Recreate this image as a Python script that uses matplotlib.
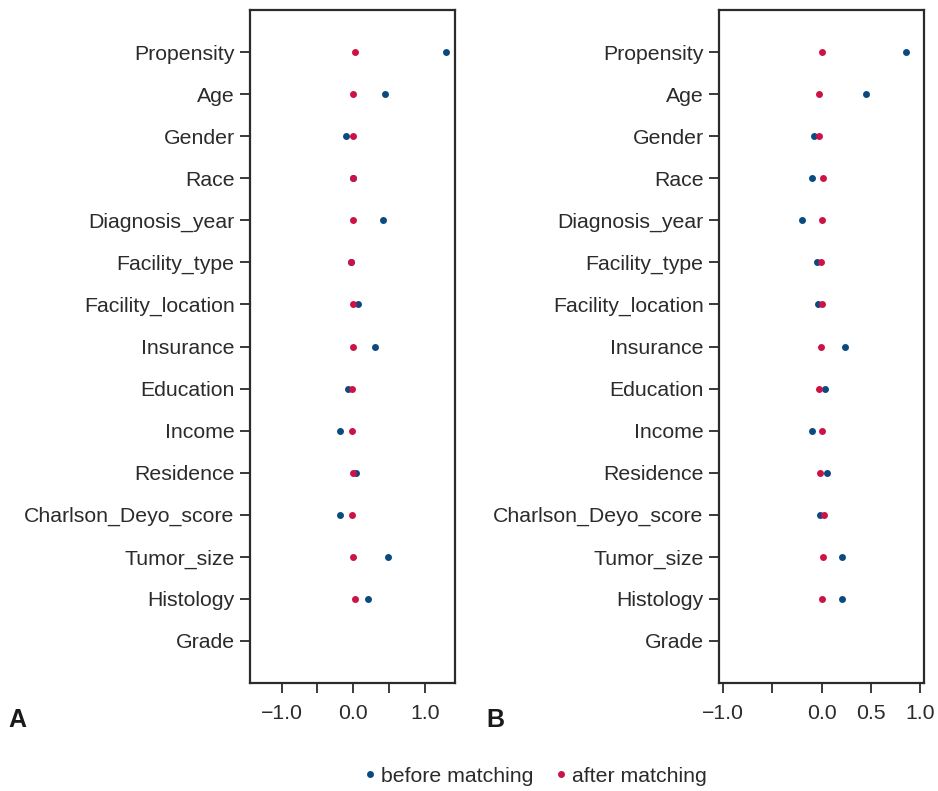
import numpy as np
import matplotlib.pyplot as plt

plt.rcParams['font.family'] = ['Liberation Sans', 'DejaVu Sans']

# Covariates, top to bottom
covariates = ["Propensity", "Age", "Gender", "Race", "Diagnosis_year",
              "Facility_type", "Facility_location", "Insurance", "Education",
              "Income", "Residence", "Charlson_Deyo_score", "Tumor_size",
              "Histology", "Grade"]

# Standardized differences, panel A (nan = not shown)
a_before = [1.29, 0.45, -0.10, 0.0, 0.41, -0.03, 0.06, 0.31, -0.07,
            -0.18, 0.04, -0.18, 0.49, 0.20, np.nan]
a_after = [0.02, 0.0, -0.01, 0.0, -0.01, -0.03, -0.01, 0.0, -0.02,
           -0.02, 0.0, -0.02, 0.0, 0.02, np.nan]

# Standardized differences, panel B
b_before = [0.86, 0.45, -0.08, -0.10, -0.20, -0.05, -0.04, 0.24, 0.04,
            -0.10, 0.06, -0.02, 0.21, 0.21, np.nan]
b_after = [0.0, -0.03, -0.03, 0.02, 0.01, -0.01, 0.0, -0.01, -0.03,
           0.0, -0.02, 0.03, 0.02, 0.0, np.nan]

blue = "#0b4a80"
red = "#cc1246"
spine_col = "#2b2b2b"

fig = plt.figure(figsize=(9.38, 7.91), dpi=100)
axA = fig.add_axes([250 / 938, 1 - 683 / 791, 205 / 938, 673 / 791])
axB = fig.add_axes([719 / 938, 1 - 683 / 791, 205 / 938, 673 / 791])

y = np.arange(len(covariates))[::-1]


def panel(ax, before, after, xlim, ticks, ticklabels):
    ax.plot(before, y, 'o', color=blue, markersize=5, markeredgewidth=0,
            label="before matching", zorder=3)
    ax.plot(after, y, 'o', color=red, markersize=5, markeredgewidth=0,
            label="after matching", zorder=4)
    ax.set_ylim(-1, len(covariates))
    ax.set_yticks(y)
    ax.set_yticklabels(covariates)
    ax.set_xlim(*xlim)
    ax.set_xticks(ticks)
    ax.set_xticklabels(ticklabels)
    ax.tick_params(labelsize=15.3, colors=spine_col, length=7, width=1.3)
    ax.tick_params(axis='y', pad=4)
    ax.tick_params(axis='x', pad=8)
    for s in ax.spines.values():
        s.set_color(spine_col)
        s.set_linewidth(1.6)


panel(axA, a_before, a_after, (-1.44, 1.42),
      [-1.0, -0.5, 0.0, 0.5, 1.0], ["\u22121.0", "", "0.0", "", "1.0"])
panel(axB, b_before, b_after, (-1.04, 1.04),
      [-1.0, -0.5, 0.0, 0.5, 1.0], ["\u22121.0", "", "0.0", "0.5", "1.0"])

fig.text(8 / 938, 1 - 720 / 791, "A", fontsize=18, fontweight='bold',
         va='center', ha='left', color="#1a1a1a")
fig.text(486 / 938, 1 - 720 / 791, "B", fontsize=18, fontweight='bold',
         va='center', ha='left', color="#1a1a1a")

handles, labels = axA.get_legend_handles_labels()
fig.legend(handles, labels, loc='center', bbox_to_anchor=(533 / 938, 1 - 776 / 791),
           ncol=2, frameon=False, fontsize=15.3, handletextpad=0.0,
           handlelength=1.0, columnspacing=0.8, labelcolor="#2b2b2b")

fig.savefig("out.png", dpi=100)
